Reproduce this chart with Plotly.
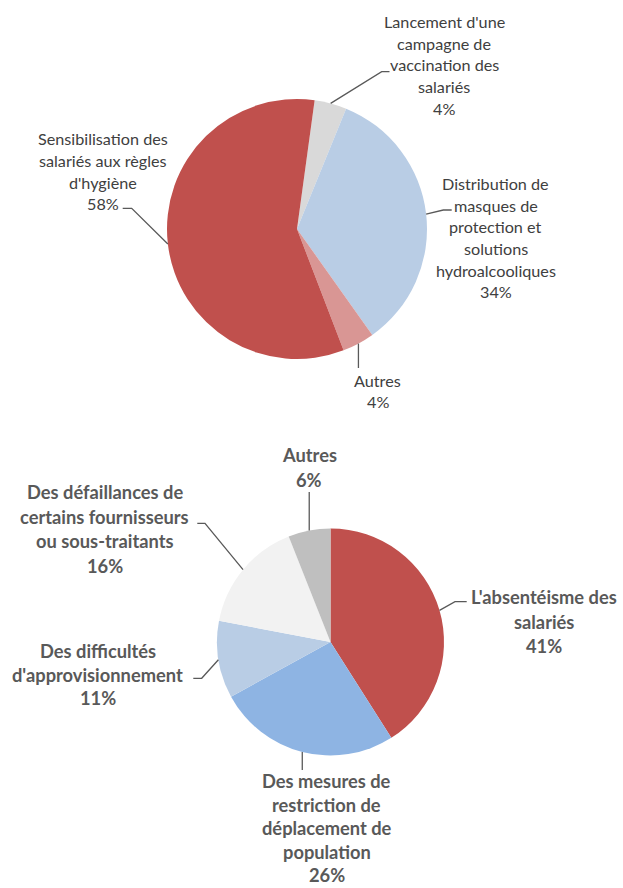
import math
import plotly.graph_objects as go

W, H = 623, 888

# ---- Data ----
top_labels = ["Lancement d'une campagne de vaccination des salariés",
              "Distribution de masques de protection et solutions hydroalcooliques",
              "Autres",
              "Sensibilisation des salariés aux règles d'hygiène"]
top_values = [4, 34, 4, 58]
top_colors = ["#D9D9D9", "#B9CDE5", "#D99694", "#C0504D"]
top_lines = [["Lancement d'une", "campagne de", "vaccination des", "salariés"],
             ["Distribution de", "masques de", "protection et", "solutions", "hydroalcooliques"],
             ["Autres"],
             ["Sensibilisation des", "salariés aux règles", "d'hygiène"]]

bot_labels = ["L'absentéisme des salariés",
              "Des mesures de restriction de déplacement de population",
              "Des difficultés d'approvisionnement",
              "Des défaillances de certains fournisseurs ou sous-traitants",
              "Autres"]
bot_values = [41, 26, 11, 16, 6]
bot_colors = ["#C0504D", "#8EB4E3", "#B9CDE5", "#F2F2F2", "#BFBFBF"]
bot_lines = [["L'absentéisme des", "salariés"],
             ["Des mesures de", "restriction de", "déplacement de", "population"],
             ["Des difficultés", "d'approvisionnement"],
             ["Des défaillances de", "certains fournisseurs", "ou sous-traitants"],
             ["Autres"]]

# ---- Layout (pixel positions) ----
top_pie = dict(cx=297, cy=229, r=130, rot=7.8)
bot_pie = dict(cx=330.5, cy=642, r=113.5, rot=0)

# label placement: (center x, first line y, line spacing), leader elbow points
top_place = [
    dict(x=444, y=21.7, dy=21.65, path=[(381.7, 71.7), (389.5, 71.7)]),
    dict(x=495.5, y=183.3, dy=21.7, path=[(443.3, 210), (451.7, 210)]),
    dict(x=377.5, y=380, dy=21.7, path=[(None, 368)]),
    dict(x=102.5, y=138.5, dy=21.8, path=[(131.7, 208.3), (122.7, 208.3)]),
]
bot_place = [
    dict(x=543.5, y=597, dy=24.6, path=[(455, 601.7), (466.7, 601.7)]),
    dict(x=326.7, y=781, dy=23.6, path=[(None, 770)]),
    dict(x=97.5, y=651, dy=23.7, path=[(201.7, 678.3), (193.3, 678.3)]),
    dict(x=104.5, y=491.7, dy=24.8, path=[(205, 523.3), (197.3, 523.3)]),
    dict(x=309.3, y=455, dy=24.8, path=[(None, 492)]),
]


def px(x):
    return x / W


def py(y):
    return 1 - y / H


def pie_trace(labels, values, colors, p):
    return go.Pie(
        labels=labels, values=values, sort=False, direction="clockwise",
        rotation=p["rot"], textinfo="none", hoverinfo="label+percent",
        marker=dict(colors=colors, line=dict(width=0)),
        domain=dict(x=[px(p["cx"] - p["r"]), px(p["cx"] + p["r"])],
                    y=[py(p["cy"] + p["r"]), py(p["cy"] - p["r"])]),
        showlegend=False,
    )


fig = go.Figure()
fig.add_trace(pie_trace(top_labels, top_values, top_colors, top_pie))
fig.add_trace(pie_trace(bot_labels, bot_values, bot_colors, bot_pie))

annotations = []
shapes = []


def add_labels(values, lines, places, p, font):
    total = sum(values)
    cum = 0
    for v, ls, pl in zip(values, lines, places):
        mid = p["rot"] + (cum + v / 2) / total * 360
        cum += v
        a = math.radians(mid)
        sx = p["cx"] + p["r"] * math.sin(a)
        sy = p["cy"] - p["r"] * math.cos(a)
        pts = [(sx, sy)]
        for (ex, ey) in pl["path"]:
            pts.append((sx if ex is None else ex, ey))
        d = "M " + " L ".join(f"{px(x):.5f},{py(y):.5f}" for x, y in pts)
        shapes.append(dict(type="path", path=d, xref="paper", yref="paper",
                           line=dict(color="#595959", width=1.3)))
        all_lines = ls + [f"{round(v / total * 100)}%"]
        for i, t in enumerate(all_lines):
            annotations.append(dict(
                x=px(pl["x"]), y=py(pl["y"] + i * pl["dy"]), xref="paper", yref="paper",
                text=t, showarrow=False, xanchor="center", yanchor="middle",
                font=font))


add_labels(top_values, top_lines, top_place, top_pie,
           dict(family="Lato", size=16.2, color="#404040"))
add_labels(bot_values, bot_lines, bot_place, bot_pie,
           dict(family="Lato", size=18.3, color="#595959", weight="bold"))

fig.update_layout(
    width=W, height=H, margin=dict(l=0, r=0, t=0, b=0),
    paper_bgcolor="white", plot_bgcolor="white",
    annotations=annotations, shapes=shapes,
)

fig.write_html("out.html", config={"displayModeBar": False},
               post_script="document.body.style.margin='0';document.body.style.overflow='hidden';")
